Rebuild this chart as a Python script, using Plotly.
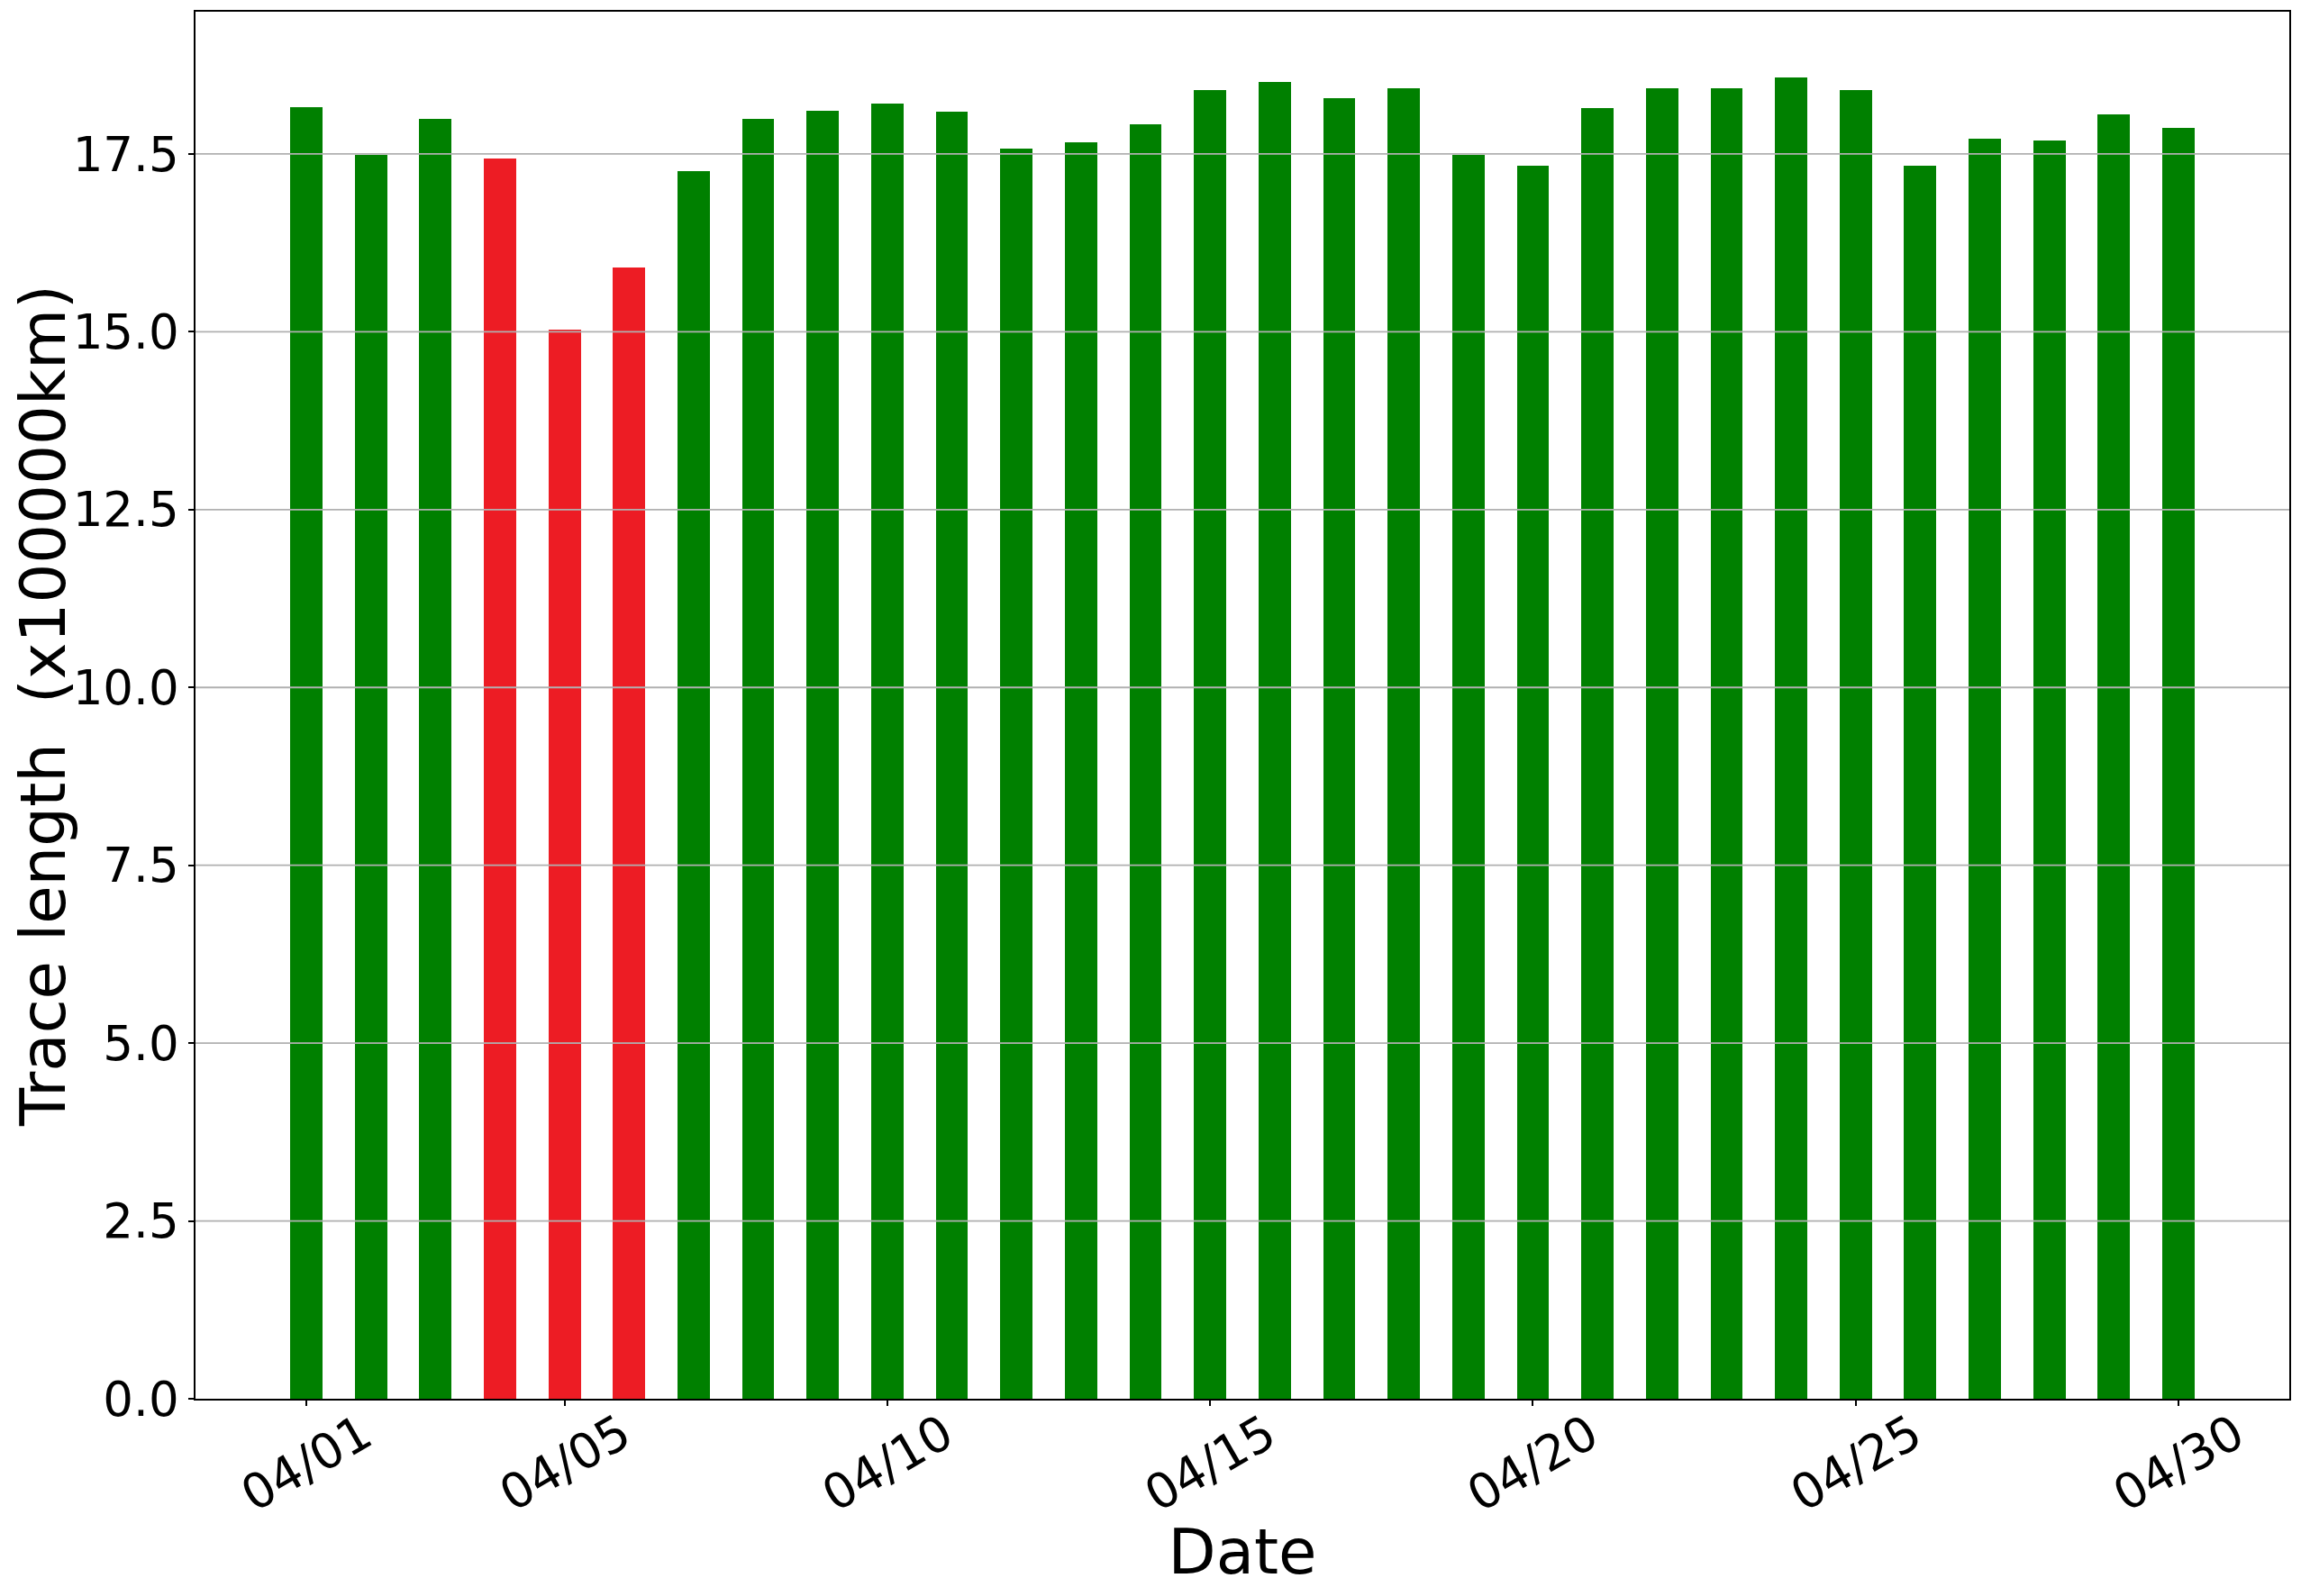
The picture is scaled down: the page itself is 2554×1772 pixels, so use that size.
import plotly.graph_objects as go

days = list(range(1, 31))
values = [18.16, 17.49, 17.99, 17.44, 15.03, 15.91, 17.26, 17.99, 18.11, 18.21,
          18.09, 17.58, 17.67, 17.92, 18.40, 18.51, 18.28, 18.43, 17.49, 17.34,
          18.15, 18.42, 18.42, 18.58, 18.40, 17.34, 17.72, 17.69, 18.06, 17.87]
anomaly_days = [4, 5, 6]
tick_days = [1, 5, 10, 15, 20, 25, 30]
tick_labels = ["04/01", "04/05", "04/10", "04/15", "04/20", "04/25", "04/30"]
y_ticks = [0, 2.5, 5, 7.5, 10, 12.5, 15, 17.5]

GREEN = "#008000"
RED = "#ED1C24"
FONT = "DejaVu Sans"

colors = [RED if d in anomaly_days else GREEN for d in days]

fig = go.Figure()
fig.add_trace(go.Bar(x=days, y=values, width=0.5, marker=dict(color=colors, line=dict(width=0)),
                     showlegend=False))

# gridlines drawn above bars (as in the reference)
for v in y_ticks[1:]:
    fig.add_shape(type="line", xref="paper", x0=0, x1=1, yref="y", y0=v, y1=v,
                  line=dict(color="#b0b0b0", width=1.8), layer="above")

# rotated x tick labels centred under ticks
for d, lab in zip(tick_days, tick_labels):
    fig.add_annotation(x=d, xref="x", y=0, yref="paper", text=lab, showarrow=False,
                       textangle=-30, xanchor="center", yanchor="middle", yshift=-71,
                       font=dict(family=FONT, size=54, color="black"))

fig.update_layout(
    width=2538, height=1756,
    margin=dict(l=209, r=5, t=5, b=211),
    paper_bgcolor="white", plot_bgcolor="white",
    font=dict(family=FONT, color="black"),
    bargap=0,
)
fig.update_xaxes(range=[-0.716, 31.716], tickmode="array", tickvals=tick_days,
                 showticklabels=False, ticks="outside", ticklen=6, tickwidth=1.5, tickcolor="black",
                 showgrid=False, zeroline=False, showline=True, linecolor="black", linewidth=1.5,
                 mirror=True, automargin=False,
                 title=dict(text="Date", font=dict(family=FONT, size=69), standoff=139))
fig.update_yaxes(range=[0, 19.5], tickmode="array", tickvals=y_ticks,
                 ticktext=[f"{v:.1f}" for v in y_ticks],
                 ticks="outside", ticklen=6, tickwidth=1.5, tickcolor="black",
                 tickfont=dict(family=FONT, size=53),
                 showgrid=False, zeroline=False, showline=True, linecolor="black", linewidth=1.5,
                 mirror=True, automargin=False,
                 title=dict(text="Trace length  (x100000km)", font=dict(family=FONT, size=69), standoff=34))

fig.write_html("out.html")
